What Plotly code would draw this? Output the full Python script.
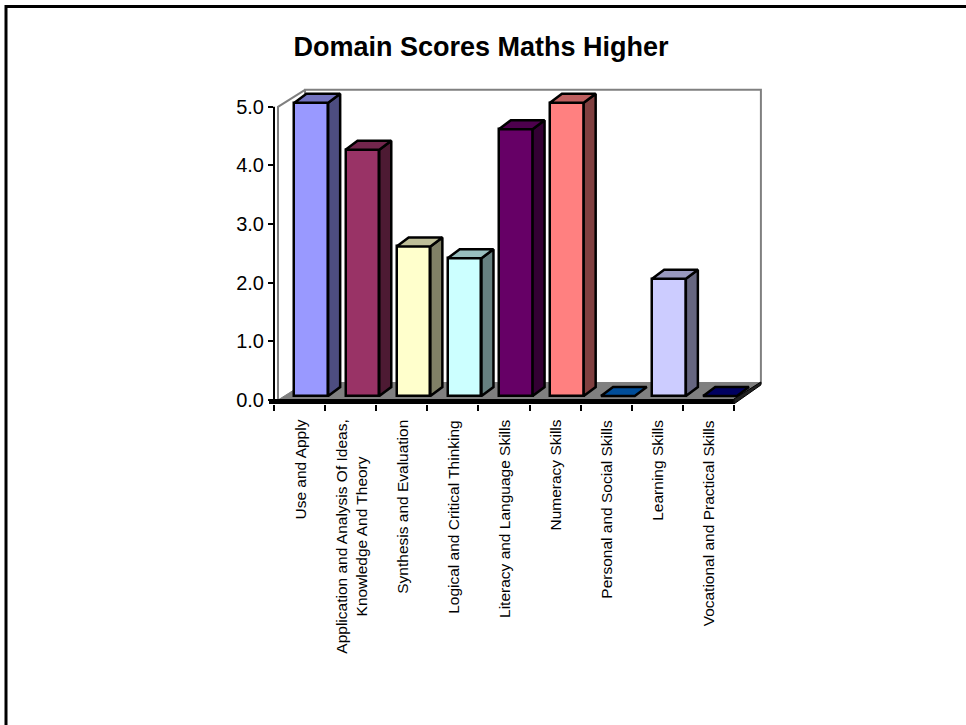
import plotly.graph_objects as go

# ---- data -------------------------------------------------------------
categories = [
    "Use and Apply",
    "Application and Analysis Of Ideas,<br>Knowledge And Theory",
    "Synthesis and Evaluation",
    "Logical and Critical Thinking",
    "Literacy and Language Skills",
    "Numeracy Skills",
    "Personal and Social Skills",
    "Learning Skills",
    "Vocational and Practical Skills",
]
scores = [5.0, 4.2, 2.55, 2.35, 4.55, 5.0, 0.0, 2.0, 0.0]
y_ticks = [0, 1, 2, 3, 4, 5]

front_colors = ["#9999FF", "#993366", "#FFFFCC", "#CCFFFF", "#660066",
                "#FF8080", "#0066CC", "#CCCCFF", "#000080"]
side_colors = ["#4D4D80", "#4D1A33", "#808066", "#668080", "#330033",
               "#804040", "#003366", "#666680", "#000040"]
top_colors = ["#7373BF", "#73264D", "#BFBF99", "#99BFBF", "#4D004D",
              "#BF6060", "#004D99", "#9999BF", "#000060"]

# ---- page geometry (pixels) -------------------------------------------
W, H = 966, 725
L, R, T, B = 274, 775, 88, 404      # plot area edges
ZERO_PX = 400                        # pixel row of value 0 on the front axis
PX_X = 51.1                          # pixels per category
PX_Y = 58.64                         # pixels per score unit

X_RANGE = [0, (R - L) / PX_X]
Y_RANGE = [-(B - ZERO_PX) / PX_Y, (ZERO_PX - T) / PX_Y]


def paper_x(px):
    return (px - L) / (R - L)


def paper_y(py):
    return (B - py) / (B - T)


def val_to_paper(v):
    return (v - Y_RANGE[0]) / (Y_RANGE[1] - Y_RANGE[0])


# 3-D look: floor depth, bar placement and bar depth (data units)
FLOOR_DX, FLOOR_DY = 27 / PX_X, 17 / PX_Y
WALL_X0 = 4 / PX_X
BAR_LIFT = 4 / PX_Y
BAR_OFFSET, BAR_WIDTH = 0.40, 0.66
BAR_DX, BAR_DY = 12 / PX_X, 9 / PX_Y
N = len(categories)

GRAY = "#808080"
FONT = "Liberation Sans, Arial, sans-serif"
EDGE = 2.5

fig = go.Figure()

# ---- bars: side and top faces ------------------------------------------
for i, v in enumerate(scores):
    xl = i + BAR_OFFSET
    xr = xl + BAR_WIDTH
    y0 = BAR_LIFT
    y1 = BAR_LIFT + v
    if v > 0:
        fig.add_trace(go.Scatter(
            x=[xr, xr + BAR_DX, xr + BAR_DX, xr, xr],
            y=[y0, y0 + BAR_DY, y1 + BAR_DY, y1, y0],
            mode="lines", fill="toself", fillcolor=side_colors[i],
            line=dict(color="black", width=EDGE), hoverinfo="skip"))
    fig.add_trace(go.Scatter(
        x=[xl, xl + BAR_DX, xr + BAR_DX, xr, xl],
        y=[y1, y1 + BAR_DY, y1 + BAR_DY, y1, y1],
        mode="lines", fill="toself", fillcolor=top_colors[i],
        line=dict(color="black", width=EDGE), hoverinfo="skip"))

# ---- bars: front faces ---------------------------------------------------
fig.add_trace(go.Bar(
    x=[i + BAR_OFFSET + BAR_WIDTH / 2 for i in range(N)],
    y=scores,
    base=[BAR_LIFT] * N,
    width=BAR_WIDTH,
    marker=dict(color=front_colors, line=dict(color="black", width=EDGE)),
    hovertext=[c.replace("<br>", " ") for c in categories],
    hovertemplate="%{hovertext}: %{y:.1f}<extra></extra>",
))

# ---- walls and floor -----------------------------------------------------
shapes = []
# back wall
shapes.append(dict(type="rect", xref="x", yref="y", layer="below",
                   x0=WALL_X0 + FLOOR_DX, x1=N + FLOOR_DX,
                   y0=FLOOR_DY, y1=5 + FLOOR_DY,
                   line=dict(color=GRAY, width=2), fillcolor="white"))
# side wall edges
shapes.append(dict(type="path", xref="x", yref="y", layer="below",
                   path=f"M {WALL_X0},0 L {WALL_X0},5 L {WALL_X0 + FLOOR_DX},{5 + FLOOR_DY}",
                   line=dict(color=GRAY, width=2)))
# floor
shapes.append(dict(type="path", xref="x", yref="y", layer="below",
                   path=(f"M {WALL_X0},0 L {N},0 L {N + FLOOR_DX},{FLOOR_DY} "
                         f"L {WALL_X0 + FLOOR_DX},{FLOOR_DY} Z"),
                   line=dict(color=GRAY, width=1), fillcolor=GRAY))
# floor slab: front edge and right end
slab_top = 1 / PX_Y
shapes.append(dict(type="rect", xref="x", yref="y", layer="above",
                   x0=0, x1=N, y0=Y_RANGE[0], y1=slab_top,
                   line=dict(width=0), fillcolor="black"))
shapes.append(dict(type="path", xref="x", yref="y", layer="above",
                   path=(f"M {N},{Y_RANGE[0]} L {N},{slab_top} "
                         f"L {N + FLOOR_DX},{FLOOR_DY + slab_top} "
                         f"L {N + FLOOR_DX},{FLOOR_DY - 2 / PX_Y} Z"),
                   line=dict(color="black", width=1), fillcolor="#202020"))
# slab stub reaching left past the value axis
shapes.append(dict(type="rect", xref="paper", yref="paper",
                   x0=paper_x(269), x1=0,
                   y0=0, y1=val_to_paper(slab_top),
                   line=dict(width=0), fillcolor="black"))
# value axis line
shapes.append(dict(type="line", xref="paper", yref="paper",
                   x0=0, x1=0, y0=val_to_paper(Y_RANGE[0]), y1=val_to_paper(5),
                   line=dict(color="black", width=2)))
# outer frame
shapes.append(dict(type="rect", xref="paper", yref="paper",
                   x0=paper_x(6), x1=paper_x(W + 30),
                   y0=paper_y(H + 30), y1=paper_y(6.5),
                   line=dict(color="black", width=3), fillcolor="rgba(0,0,0,0)"))

# ---- category labels -------------------------------------------------------
annotations = []
for i, c in enumerate(categories):
    annotations.append(dict(
        x=i + 0.5, xref="x", y=paper_y(418), yref="paper",
        text=c, showarrow=False, textangle=-90,
        xanchor="center", yanchor="top", align="center",
        font=dict(family=FONT, size=15.5, color="black")))

fig.update_layout(
    width=W, height=H, autosize=False,
    margin=dict(l=L, r=W - R, t=T, b=H - B, pad=0),
    paper_bgcolor="white", plot_bgcolor="white",
    showlegend=False,
    title=dict(text="<b>Domain Scores Maths Higher</b>",
               x=481 / W, xref="container", xanchor="center",
               y=1 - 47 / H, yref="container", yanchor="middle",
               font=dict(family=FONT, size=27, color="black")),
    xaxis=dict(range=X_RANGE, tickvals=list(range(N + 1)), ticks="outside",
               ticklen=6, tickwidth=2, tickcolor="black",
               showticklabels=False, showgrid=False, zeroline=False,
               showline=False, fixedrange=True),
    yaxis=dict(range=Y_RANGE, tickvals=y_ticks,
               ticktext=[f"{t:.1f}" for t in y_ticks],
               ticks="outside", ticklen=5, tickwidth=2, tickcolor="black",
               tickfont=dict(family=FONT, size=20, color="black"),
               showgrid=False, zeroline=False, showline=False, fixedrange=True),
    shapes=shapes,
    annotations=annotations,
    bargap=0,
)

fig.write_html("out.html")
